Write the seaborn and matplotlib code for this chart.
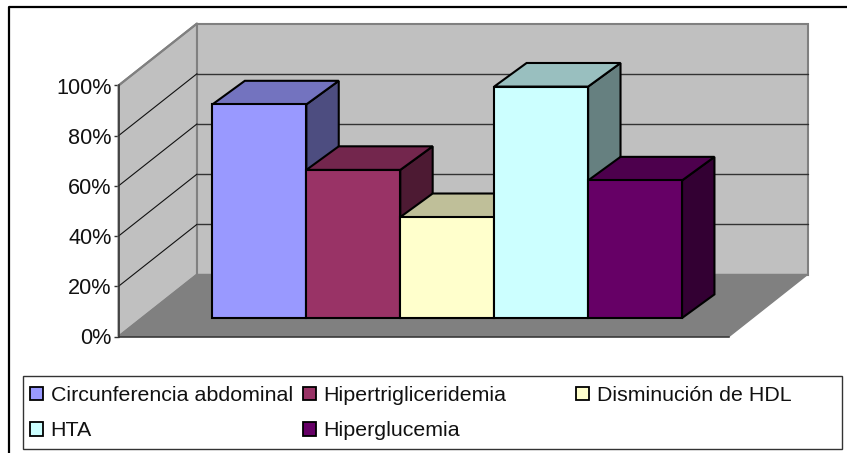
import matplotlib
matplotlib.use("Agg")
import matplotlib.pyplot as plt
import numpy as np
import pandas as pd
import seaborn as sns
from matplotlib.colors import to_rgb
from matplotlib.lines import Line2D
from matplotlib.patches import Patch, Polygon, Rectangle

# Prevalence of each component of the metabolic syndrome (%)
categories = ["Circunferencia abdominal", "Hipertrigliceridemia",
              "Disminución de HDL", "HTA", "Hiperglucemia"]
values = [85.1, 59.0, 40.2, 92.2, 54.8]
colors = ["#9999FF", "#993366", "#FFFFCC", "#CCFFFF", "#660066"]
ticks = [0, 20, 40, 60, 80, 100]

# Oblique projection parameters, in x-category and percent units
WALL_DX, WALL_DY = 0.836, 24.7
BAR_DX, BAR_DY = 0.345, 9.4
BAR_BASE = 7.37
X_MIN, X_MAX = -1.5, 5.0

W, H = 847, 453
sns.set_theme(style="white")
plt.rcParams["font.family"] = ["Liberation Sans", "DejaVu Sans"]

fig = plt.figure(figsize=(W / 100, H / 100), dpi=100, facecolor="white")
ax = fig.add_axes([118.5 / W, (H - 336.5) / H, 610.5 / W, 251 / H])
ax.patch.set_visible(False)

df = pd.DataFrame({"grupo": categories, "valor": values})
sns.barplot(data=df, x="grupo", y="valor", hue="grupo", palette=colors,
            order=categories, hue_order=categories, dodge=False, legend=False,
            width=1.0, bottom=BAR_BASE, edgecolor="black", linewidth=1.5,
            saturation=1, zorder=20, ax=ax)

ax.set_xlim(X_MIN, X_MAX)
ax.set_ylim(0, 100)
ax.set_xlabel("")
ax.set_ylabel("")
ax.set_xticks([])
ax.set_yticks(ticks)
ax.set_yticklabels([f"{t}%" for t in ticks], fontsize=15.6, color="#111111")
ax.tick_params(axis="y", left=True, length=3.6, width=1, color="#333333", pad=1.5)
for side in ("top", "right"):
    ax.spines[side].set_visible(False)
for side in ("left", "bottom"):
    ax.spines[side].set_color("#333333")
    ax.spines[side].set_linewidth(1.1)
    ax.spines[side].set_zorder(6)

# Walls and floor of the 3D box
wall_kw = dict(clip_on=False, closed=True)
left_wall = [(X_MIN, 0), (X_MIN, 100), (X_MIN + WALL_DX, 100 + WALL_DY), (X_MIN + WALL_DX, WALL_DY)]
back_wall = [(X_MIN + WALL_DX, WALL_DY), (X_MIN + WALL_DX, 100 + WALL_DY),
             (X_MAX + WALL_DX, 100 + WALL_DY), (X_MAX + WALL_DX, WALL_DY)]
floor = [(X_MIN, 0), (X_MIN + WALL_DX, WALL_DY), (X_MAX + WALL_DX, WALL_DY), (X_MAX, 0)]
ax.add_patch(Polygon(left_wall, fc="#C0C0C0", ec="#808080", lw=1.5, zorder=1, **wall_kw))
ax.add_patch(Polygon(back_wall, fc="#C0C0C0", ec="#808080", lw=1.5, zorder=1, **wall_kw))
ax.add_patch(Polygon(floor, fc="#808080", ec="#808080", lw=1, zorder=2, **wall_kw))

# Gridlines across the left and back walls
for t in ticks[1:-1]:
    ax.plot([X_MIN, X_MIN + WALL_DX], [t, t + WALL_DY], color="#111111", lw=0.8,
            clip_on=False, zorder=3)
    ax.plot([X_MIN + WALL_DX, X_MAX + WALL_DX], [t + WALL_DY] * 2, color="#333333",
            lw=1.0, clip_on=False, zorder=3)
ax.plot([X_MIN, X_MIN + WALL_DX], [100, 100 + WALL_DY], color="#808080", lw=1.5,
        clip_on=False, zorder=3)

# Shaded top and right faces of every bar, painted from left to right
for i, (value, color) in enumerate(zip(values, colors)):
    rgb = np.array(to_rgb(color))
    x0, x1 = i - 0.5, i + 0.5
    y0, y1 = BAR_BASE, BAR_BASE + value
    top = [(x0, y1), (x1, y1), (x1 + BAR_DX, y1 + BAR_DY), (x0 + BAR_DX, y1 + BAR_DY)]
    right = [(x1, y0), (x1, y1), (x1 + BAR_DX, y1 + BAR_DY), (x1 + BAR_DX, y0 + BAR_DY)]
    z = 5 + i
    ax.add_patch(Polygon(right, fc=rgb * 0.5, ec="black", lw=1.5, joinstyle="miter",
                         clip_on=False, zorder=z))
    ax.add_patch(Polygon(top, fc=rgb * 0.75, ec="black", lw=1.5, joinstyle="miter",
                         clip_on=False, zorder=z + 0.5))

# Outer chart frame, open toward the bottom and right edges
fig.add_artist(Line2D([8.5 / W, 8.5 / W, 1], [0, 1 - 6.5 / H, 1 - 6.5 / H],
                      color="black", lw=1.6))

# Legend box with three evenly spaced columns
fig.add_artist(Rectangle((22.5 / W, (H - 449) / H), 819.5 / W, 73 / H, fc="white",
                         ec="#333333", lw=1, transform=fig.transFigure))
columns = [(30, [0, 3]), (303, [1, 4]), (576, [2])]
for left, idx in columns:
    handles = [Patch(fc=colors[i], ec="black", lw=1.3, label=categories[i]) for i in idx]
    fig.legend(handles=handles, loc="upper left", frameon=False, fontsize=15.4,
               bbox_to_anchor=(left / W, (H - 386) / H), borderaxespad=0, borderpad=0,
               handlelength=0.6, handleheight=0.6, handletextpad=0.36, labelspacing=0.76,
               labelcolor="#111111")

fig.savefig("out.png", dpi=100, facecolor="white")
